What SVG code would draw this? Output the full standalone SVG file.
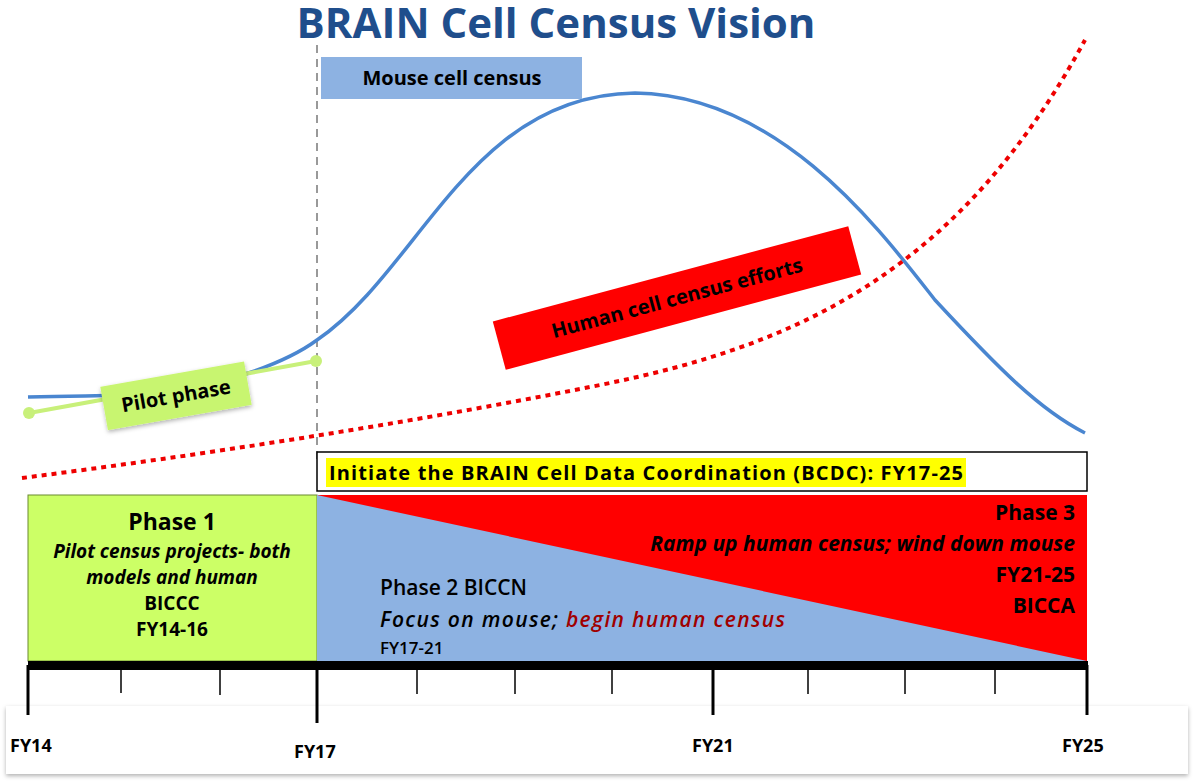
<svg xmlns="http://www.w3.org/2000/svg" width="1195" height="784" viewBox="0 0 1195 784">
<defs><filter id="sh" x="-5%" y="-20%" width="110%" height="150%"><feDropShadow dx="0" dy="2" stdDeviation="2" flood-opacity="0.3"/></filter></defs>
<style>
text{font-family:"Open Sans","Liberation Sans",sans-serif;font-weight:bold;fill:#000}
.t{font-size:18px}
.tick{stroke:#000;stroke-width:1.5}
.maj{stroke:#000;stroke-width:3}
</style>
<rect width="1195" height="784" fill="#fff"/>
<text x="556" y="38" text-anchor="middle" style="font-size:42px;fill:#1f4e8c">BRAIN Cell Census Vision</text>
<g id="connectors">
<line x1="317" y1="45" x2="317" y2="460" stroke="#999" stroke-width="2" stroke-dasharray="8,6"/>
<path d="M28,397 C90,395 110,397 160,393 C230,385 290,360 317,340 C420,270 470,95 635,93 C780,95 880,230 935,300 C1000,370 1040,410 1085,433" fill="none" stroke="#4a86d0" stroke-width="3.5"/>
<path d="M22,478 C200,455 400,425 600,385 C800,345 960,270 1085,40" fill="none" stroke="#e00" stroke-width="4" stroke-dasharray="5,5"/>
<line x1="29" y1="413" x2="316" y2="361" stroke="#c8f07a" stroke-width="4"/>
<circle cx="29" cy="413" r="6" fill="#c8f07a"/><circle cx="316" cy="361" r="6" fill="#c8f07a"/>
</g>
<g id="mouse"><rect x="321" y="57" width="261" height="42" fill="#8db2e2"/><text x="452" y="85" text-anchor="middle" style="font-size:20px">Mouse cell census</text></g>
<g id="pilot" transform="rotate(-10 175 396)"><rect x="103" y="374" width="146" height="44" fill="#c8f570" filter="url(#sh)"/><text x="176" y="403" text-anchor="middle" style="font-size:20px">Pilot phase</text></g>
<g id="human" transform="rotate(-15 677 298)"><rect x="493" y="273" width="368" height="50" fill="#f00"/><text x="677" y="305" text-anchor="middle" style="font-size:20px">Human cell census efforts</text></g>
<g id="bcdc"><rect x="317" y="452" width="770" height="39" fill="#fff" stroke="#000" stroke-width="1.5"/><rect x="326" y="458" width="640" height="29" fill="#ff0"/><text x="329" y="480" textLength="634" style="font-size:20px">Initiate the BRAIN Cell Data Coordination (BCDC): FY17-25</text></g>
<g id="phase1"><rect x="28" y="495" width="289" height="166" fill="#ccff66" stroke="#6a8a30" stroke-width="1"/>
<text text-anchor="middle" style="font-size:19px"><tspan x="172" y="530" style="font-size:23px">Phase 1</tspan><tspan x="172" y="558" font-style="italic">Pilot census projects- both</tspan><tspan x="172" y="584" font-style="italic">models and human</tspan><tspan x="172" y="610">BICCC</tspan><tspan x="172" y="636">FY14-16</tspan></text></g>
<g id="phase23">
<rect x="317" y="495" width="770" height="166" fill="#8db2e2"/>
<polygon points="317,495 1087,495 1087,661" fill="#f00"/>
<text x="380" y="595" style="font-weight:600;font-size:21px">Phase 2 BICCN</text>
<text x="380" y="627" style="font-weight:600;font-size:21px;font-style:italic" textLength="405">Focus on mouse; <tspan fill="#a00000">begin human census</tspan></text>
<text x="380" y="654" style="font-weight:600;font-size:17px">FY17-21</text>
<text text-anchor="end" style="font-size:21px"><tspan x="1075" y="520">Phase 3</tspan><tspan x="1075" y="551" font-style="italic">Ramp up human census; wind down mouse</tspan><tspan x="1075" y="582">FY21-25</tspan><tspan x="1075" y="613">BICCA</tspan></text>
</g>
<g id="axis">
<rect x="6" y="706" width="1182" height="68" fill="#fff" filter="url(#sh)"/>
<rect x="28" y="661" width="1060" height="9" fill="#000"/>
<line class="maj" x1="28" y1="665" x2="28" y2="715"/><line class="maj" x1="317" y1="665" x2="317" y2="723"/><line class="maj" x1="713" y1="665" x2="713" y2="715"/><line class="maj" x1="1087" y1="665" x2="1087" y2="715"/>
<g class="tick"><line x1="121" y1="665" x2="121" y2="693"/><line x1="220" y1="665" x2="220" y2="695"/><line x1="417" y1="665" x2="417" y2="694"/><line x1="515" y1="665" x2="515" y2="694"/><line x1="612" y1="665" x2="612" y2="694"/><line x1="808" y1="665" x2="808" y2="694"/><line x1="905" y1="665" x2="905" y2="694"/><line x1="995" y1="665" x2="995" y2="694"/></g>
<text class="t" x="10" y="752">FY14</text><text class="t" x="294" y="758">FY17</text><text class="t" x="692" y="752">FY21</text><text class="t" x="1062" y="752">FY25</text>
</g>
</svg>
